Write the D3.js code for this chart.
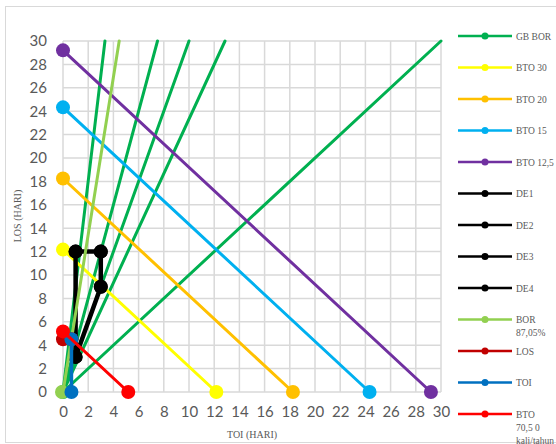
<!DOCTYPE html>
<html><head><meta charset="utf-8">
<script src="https://cdn.jsdelivr.net/npm/d3@7"></script>
<style>body{margin:0;background:#fff}svg{display:block}</style>
</head><body><div id="c"></div>
<script>
// ---- data ----
const xTicks = d3.range(0, 31, 2);
const yTicks = d3.range(0, 31, 2);
// GB BOR lines: from origin to TOI value at LOS = 30 (BOR 90, 80, 75, 70, 50 %)
const borEndTOI = [3.33, 7.5, 10, 12.86, 30];
const borEndLOS = [30, 30, 30, 30, 30];
// BTO lines: intercept on both axes
const btoNames = ["BTO 30", "BTO 20", "BTO 15", "BTO 12,5"];
const btoIntercepts = [12.17, 18.25, 24.33, 29.2];
const btoColors = ["#FFFF00", "#FFC000", "#00B0F0", "#7030A0"];
// efficient area (DE1..DE4)
const deTOI = [[1, 3], [3, 3], [3, 1], [1, 1]];
const deLOS = [[12, 12], [12, 9], [9, 3], [3, 12]];
// BOR 87,05% line
const bor8705TOI = [0, 4.46];
const bor8705LOS = [0, 30];
// actual LOS / TOI
const losTOI = [0, 0.67], losLOS = [4.51, 4.51];
const toiTOI = [0.67, 0.67], toiLOS = [0, 4.51];
// BTO 70,5 kali/tahun
const bto705TOI = [0, 5.18], bto705LOS = [5.18, 0];

const legendItems = [
  {label: ["GB BOR"], color: "#00B050"},
  {label: ["BTO 30"], color: "#FFFF00"},
  {label: ["BTO 20"], color: "#FFC000"},
  {label: ["BTO 15"], color: "#00B0F0"},
  {label: ["BTO 12,5"], color: "#7030A0"},
  {label: ["DE1"], color: "#000000"},
  {label: ["DE2"], color: "#000000"},
  {label: ["DE3"], color: "#000000"},
  {label: ["DE4"], color: "#000000"},
  {label: ["BOR", "87,05%"], color: "#92D050"},
  {label: ["LOS"], color: "#C00000"},
  {label: ["TOI"], color: "#0070C0"},
  {label: ["BTO", "70,5 0", "kali/tahun"], color: "#FF0000"}
];

// ---- chart ----
const W = 556, H = 444;
const svg = d3.select("#c").append("svg").attr("width", W).attr("height", H);
svg.append("rect").attr("x", 5.5).attr("y", 6.5).attr("width", 560).attr("height", 436)
  .attr("fill", "#fff").attr("stroke", "#D9D9D9").attr("stroke-width", 1);

const x = d3.scaleLinear().domain([0, 30]).range([63, 441]);
const y = d3.scaleLinear().domain([0, 30]).range([392, 41]);

const grid = svg.append("g");
grid.selectAll(".vx").data(xTicks).join("line")
  .attr("x1", d => x(d)).attr("x2", d => x(d)).attr("y1", y(0)).attr("y2", y(30))
  .attr("stroke", "#D9D9D9").attr("stroke-width", 1.5);
grid.selectAll(".hy").data(yTicks).join("line")
  .attr("y1", d => y(d)).attr("y2", d => y(d)).attr("x1", x(0)).attr("x2", x(30))
  .attr("stroke", "#D9D9D9").attr("stroke-width", 1.5);

const xAxis = svg.append("g").attr("transform", `translate(0,${y(0)})`)
  .call(d3.axisBottom(x).tickValues(xTicks).tickSize(0).tickPadding(14));
const yAxis = svg.append("g").attr("transform", `translate(${x(0)},0)`)
  .call(d3.axisLeft(y).tickValues(yTicks).tickSize(0).tickPadding(16));
[xAxis, yAxis].forEach(a => {
  a.select(".domain").remove();
  a.selectAll("text").attr("fill", "#595959").style("font-family", "Lato, 'Open Sans', sans-serif").style("font-size", "15px");
});

svg.append("text").attr("x", 252).attr("y", 438).attr("text-anchor", "middle")
  .attr("fill", "#595959").style("font-family", "'Liberation Serif', serif").style("font-size", "10px").text("TOI (HARI)");
svg.append("text").attr("transform", "translate(21,216) rotate(-90)").attr("text-anchor", "middle")
  .attr("fill", "#595959").style("font-family", "'Liberation Serif', serif").style("font-size", "10px").text("LOS (HARI)");

const line = d3.line().x(d => x(d[0])).y(d => y(d[1]));
const plot = svg.append("g");
function series(xs, ys, color, width, markers, r) {
  const pts = xs.map((v, i) => [v, ys[i]]);
  plot.append("path").attr("d", line(pts)).attr("fill", "none")
    .attr("stroke", color).attr("stroke-width", width).attr("stroke-linecap", "round");
  if (markers) plot.selectAll(null).data(pts).join("circle")
    .attr("cx", d => x(d[0])).attr("cy", d => y(d[1])).attr("r", r || 7).attr("fill", color);
}
// GB BOR
borEndTOI.forEach((t, i) => series([0, t], [0, borEndLOS[i]], "#00B050", 3, false));
plot.append("circle").attr("cx", x(0)).attr("cy", y(0)).attr("r", 7).attr("fill", "#00B050");
// BTO lines
btoIntercepts.forEach((v, i) => series([0, v], [v, 0], btoColors[i], 3, true));
// DE
deTOI.forEach((t, i) => series(t, deLOS[i], "#000000", 4.5, true));
series(bor8705TOI, bor8705LOS, "#92D050", 3, false);
plot.append("circle").attr("cx", x(0) - 1).attr("cy", y(0)).attr("r", 7).attr("fill", "#92D050");
series(losTOI, losLOS, "#C00000", 3, true);
series(toiTOI, toiLOS, "#0070C0", 3.5, true);
series(bto705TOI, bto705LOS, "#FF0000", 3, true);

// legend
const lg = svg.append("g");
legendItems.forEach((it, i) => {
  const cy = 36 + i * 31.5;
  lg.append("line").attr("x1", 458).attr("x2", 512).attr("y1", cy).attr("y2", cy)
    .attr("stroke", it.color).attr("stroke-width", 2.5);
  lg.append("circle").attr("cx", 485).attr("cy", cy).attr("r", 3.5).attr("fill", it.color);
  const t = lg.append("text").attr("x", 516).attr("y", cy + 3.5).attr("fill", "#595959")
    .style("font-family", "'Liberation Serif', serif").style("font-size", "9.5px");
  it.label.forEach((l, j) => t.append("tspan").attr("x", 516).attr("dy", j === 0 ? 0 : 13).text(l));
});
</script>
</body></html>
